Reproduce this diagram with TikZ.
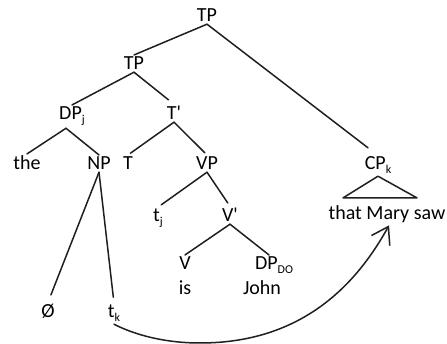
\documentclass[tikz,border=0pt]{standalone}
\usepackage{fontspec}
\setmainfont{Carlito}
\usetikzlibrary{arrows.meta,calc}
% small lowered index after a category label
\newcommand\lbsub[1]{\raisebox{-4pt}{\fontsize{12}{12}\selectfont #1}}
\begin{document}
\begin{tikzpicture}[x=1pt,y=-1pt,
  lbl/.style={anchor=base,inner sep=2pt,font=\fontsize{20}{24}\selectfont},
  branch/.style={line width=1.5pt,draw=black!88,line cap=round},
  move/.style={branch,-{Straight Barb[length=16pt,width=21pt,line width=1.5pt]}}]
\useasboundingbox (0,0) rectangle (447,344);

% labels
\node[lbl] (tp)    at (207,22)  {TP};
\node[lbl] (tp2)   at (134,70)  {TP};
\node[lbl] (dp)    at (72,120)  {DP\lbsub{j}};
\node[lbl] (tbar)  at (174,120) {T\textquotesingle};
\node[lbl] (the)   at (27,170)  {the};
\node[lbl] (np)    at (99,170)  {NP};
\node[lbl] (t)     at (128,170) {T};
\node[lbl] (vp)    at (207,170) {VP};
\node[lbl] (cp)    at (378,170) {CP\lbsub{k}};
\node[lbl] (that)  at (387,220) {that Mary saw};
\node[lbl] (tj)    at (158,222) {t\lbsub{j}};
\node[lbl] (vbar)  at (230,222) {V\textquotesingle};
\node[lbl] (v)     at (185,270) {V};
\node[lbl] (dpdo)  at (274,270) {DP\lbsub{DO}};
\node[lbl] (is)    at (185,295) {is};
\node[lbl] (john)  at (262,295) {John};
\node[lbl] (empty) at (48,318)  {Ø};
\node[lbl] (tk)    at (114,318) {t\lbsub{k}};

% branches
\draw[branch] (tp.south) -- (tp2.north);
\draw[branch] (tp.south) -- ($(cp.north)+(-10,-7)$);
\draw[branch] (tp2.south) -- (dp.north);
\draw[branch,shorten >=7pt] (tp2.south) -- (tbar.north);
\draw[branch] ($(dp.south)+(-6,0)$) -- (the.north);
\draw[branch] ($(dp.south)+(-6,0)$) -- (np.north);
\draw[branch,shorten >=3pt] (tbar.south) -- (t.north);
\draw[branch,shorten >=3pt] (tbar.south) -- (vp.north);
\draw[branch,shorten >=4pt] (vp.south) -- (tj.north);
\draw[branch,shorten >=4pt] (vp.south) -- (vbar.north);
\draw[branch] (vbar.south) -- (v.north);
\draw[branch] (vbar.south) -- ($(dpdo.north)+(-5,0)$);
\draw[branch,shorten >=8pt] (np.south) -- (empty.north);
\draw[branch,shorten >=6pt] (np.south) -- (tk.north);

% roof over the relative clause
\draw[branch,line join=round] (cp.south) -- ($(that.north)+(-44,-6)$) -- ($(that.north)+(30,-6)$) -- cycle;

% movement arrow
\coordinate (tip) at ($(that.south)+(2,0)$);
\draw[move] (tk.south) .. controls (135,335) and (165,343) .. (200,343)
  .. controls (300,343) and (355,287) .. (tip);
\end{tikzpicture}
\end{document}
